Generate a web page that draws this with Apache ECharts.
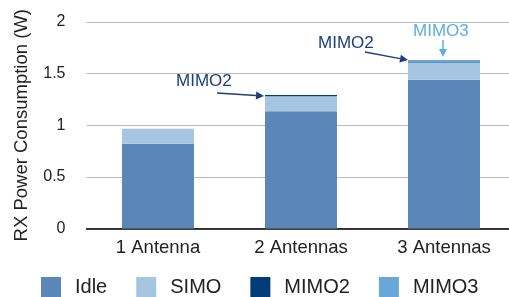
<!DOCTYPE html>
<html>
<head>
<meta charset="utf-8">
<script src="https://cdn.jsdelivr.net/npm/echarts@6/dist/echarts.min.js"></script>
<style>
    html, body { margin: 0; padding: 0; background: #fff; }
    #chart { width: 509px; height: 297px; }
</style>
</head>
<body>
<div id="chart"></div>
<script>
    // categories and stacked values (W)
    var categories = ['1 Antenna', '2 Antennas', '3 Antennas'];
    var idle = [0.82, 1.135, 1.44];
    var simo = [0.145, 0.145, 0.168];
    var mimo2 = [0, 0.012, 0.005];
    var mimo3 = [0, 0, 0.018];
    var yTicks = [0, 0.5, 1, 1.5, 2];

    var font = 'Liberation Sans, Arial, Helvetica, sans-serif';
    var colors = ['#5b87b8', '#a5c5e1', '#003b7a', '#69a7d9'];

    var chart = echarts.init(document.getElementById('chart'));

    var barSeries = function (name, data, color) {
        return {
            name: name,
            type: 'bar',
            stack: 'total',
            barWidth: 72,
            itemStyle: { color: color },
            data: data
        };
    };

    var option = {
        animation: false,
        textStyle: { fontFamily: font },
        color: colors,
        grid: {
            left: 86.5,
            top: 22,
            width: 429,
            bottom: 68.5,
            outerBoundsMode: 'none'
        },
        legend: {
            data: ['Idle', 'SIMO', 'MIMO2', 'MIMO3'],
            left: 36,
            top: 272,
            icon: 'rect',
            itemWidth: 20,
            itemHeight: 20,
            itemGap: 29,
            textStyle: { fontSize: 20, color: '#222', fontFamily: font, padding: [0, 0, 0, 9] }
        },
        xAxis: {
            type: 'category',
            data: categories,
            axisLine: { lineStyle: { color: '#000', width: 1.5 } },
            axisTick: { show: false },
            axisLabel: { color: '#222', fontSize: 18.5, margin: 10, fontFamily: font }
        },
        yAxis: {
            type: 'value',
            min: yTicks[0],
            max: yTicks[yTicks.length - 1],
            interval: 0.5,
            name: 'RX Power Consumption (W)',
            nameLocation: 'middle',
            nameGap: 55,
            nameTextStyle: { fontSize: 18.5, color: '#222', fontFamily: font },
            axisLine: { show: false },
            axisTick: { show: false },
            axisLabel: { color: '#222', fontSize: 16, margin: 21, fontFamily: font },
            splitLine: { lineStyle: { color: '#bbbbbb', width: 1 } }
        },
        series: [
            barSeries('Idle', idle, colors[0]),
            barSeries('SIMO', simo, colors[1]),
            barSeries('MIMO2', mimo2, colors[2]),
            barSeries('MIMO3', mimo3, colors[3])
        ]
    };

    chart.setOption(option);

    // 注释箭头
    var arrow = function (x1, y1, x2, y2, color) {
        var dx = x2 - x1, dy = y2 - y1;
        var len = Math.sqrt(dx * dx + dy * dy);
        var ux = dx / len, uy = dy / len;
        var hl = 8, hw = 4;
        var bx = x2 - ux * hl, by = y2 - uy * hl;
        return [
            {
                type: 'line',
                shape: { x1: x1, y1: y1, x2: bx, y2: by },
                style: { stroke: color, lineWidth: 1.5 }
            },
            {
                type: 'polygon',
                shape: { points: [[x2, y2], [bx - uy * hw, by + ux * hw], [bx + uy * hw, by - ux * hw]] },
                style: { fill: color }
            }
        ];
    };

    var total = function (i) {
        return idle[i] + simo[i] + mimo2[i] + mimo3[i];
    };

    var p2 = chart.convertToPixel({ xAxisIndex: 0, yAxisIndex: 0 }, [1, total(1)]);
    var p3 = chart.convertToPixel({ xAxisIndex: 0, yAxisIndex: 0 }, [2, total(2)]);
    var dark = '#1c3f7c', light = '#5cade3';

    var graphics = [];
    // MIMO2 on 2 Antennas
    graphics.push({
        type: 'text', x: p2[0] - 125, y: p2[1] - 22,
        style: { text: 'MIMO2', fill: dark, fontSize: 17, fontFamily: font }
    });
    graphics = graphics.concat(arrow(p2[0] - 84, p2[1] - 2, p2[0] - 37, p2[1] + 1, dark));
    // MIMO2 on 3 Antennas
    graphics.push({
        type: 'text', x: p3[0] - 126, y: p3[1] - 25,
        style: { text: 'MIMO2', fill: dark, fontSize: 17, fontFamily: font }
    });
    graphics = graphics.concat(arrow(p3[0] - 79, p3[1] - 8, p3[0] - 36, p3[1], dark));
    // MIMO3 on 3 Antennas
    graphics.push({
        type: 'text', x: p3[0] - 31, y: p3[1] - 37,
        style: { text: 'MIMO3', fill: light, fontSize: 17, fontFamily: font }
    });
    graphics = graphics.concat(arrow(p3[0] - 1, p3[1] - 20, p3[0] - 1, p3[1] - 3, light));

    chart.setOption({ graphic: graphics });
</script>
</body>
</html>
